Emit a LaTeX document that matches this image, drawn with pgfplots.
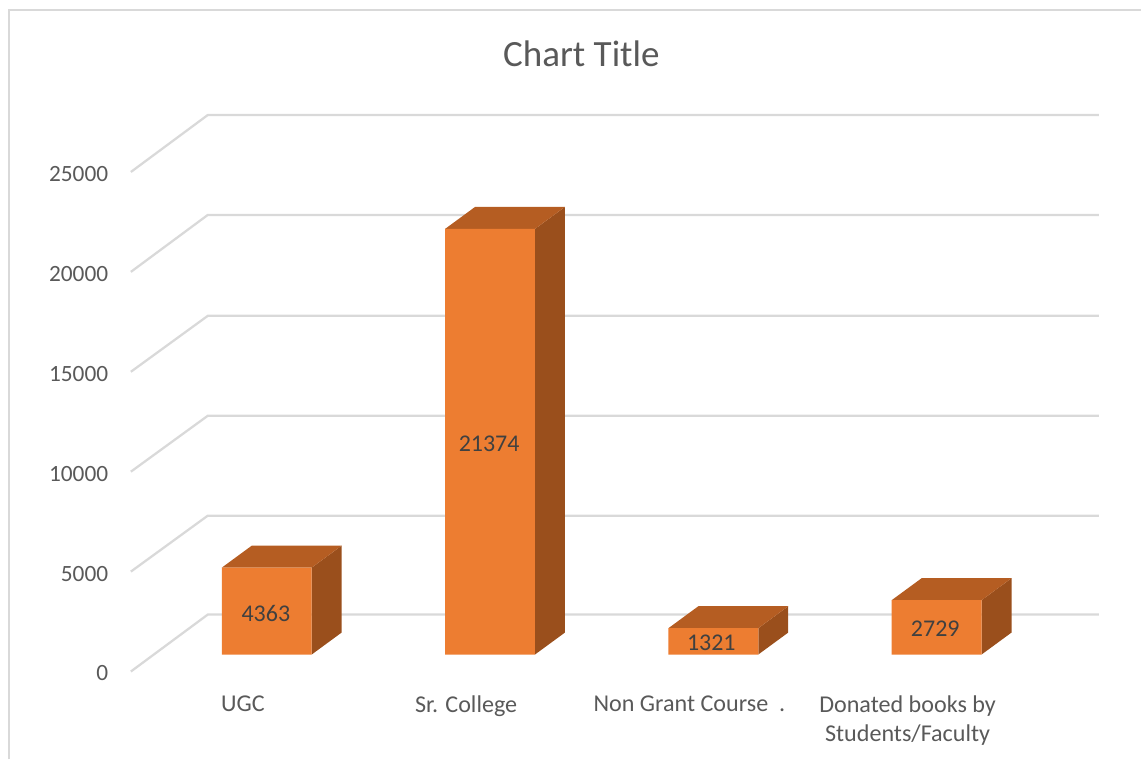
\documentclass[border=0pt]{standalone}
\usepackage{fontspec}
\setmainfont{Carlito}
\usepackage{pgfplots}
\pgfplotsset{compat=1.18}
\definecolor{barfront}{HTML}{ED7D31}
\definecolor{bartop}{HTML}{B55D22}
\definecolor{barside}{HTML}{9A4F1C}
\definecolor{gridc}{HTML}{D9D9D9}
\definecolor{txt}{HTML}{595959}
\definecolor{lbl}{HTML}{404040}
\begin{document}
\begin{tikzpicture}
\begin{axis}[
  scale only axis, width=772.5pt, height=517.5pt,
  xmin=-0.6935, xmax=3.915, ymin=-1756, ymax=32863,
  clip=false, axis line style={draw=none}, major tick length=0pt,
  scaled y ticks=false,
  xtick={-0.107,0.893,1.893,2.87},
  xticklabels={\vphantom{Dy}UGC,\vphantom{Dy}Sr. College,{\vphantom{Dy}Non Grant Course\ \ .},{Donated books by\\Students/Faculty}},
  xticklabel style={align=center,font=\fontsize{18.1}{21.8}\selectfont,text=txt,yshift=-1pt},
  ytick={-853,4164,9182,14199,19216,24233},
  yticklabels={0,5000,10000,15000,20000,25000},
  yticklabel style={font=\fontsize{17.5}{21}\selectfont,text=txt,yshift=-1.5pt,xshift=0.75pt},
]
% chart frame, left and top only
\draw[gridc,line width=1.6pt] (axis cs:-1.1544,-5268) -- (axis cs:-1.1544,32362) -- (axis cs:3.915,32362);
\path (axis cs:-1.1946,-5268) rectangle (axis cs:3.915,32863);

% floor and back wall lines
\addplot[gridc,line width=1.7pt] coordinates {(-0.6085,-853)(-0.264,2007)(3.727,2007)};
\addplot[gridc,line width=1.7pt] coordinates {(-0.6085,4164)(-0.264,6974)(3.727,6974)};
\addplot[gridc,line width=1.7pt] coordinates {(-0.6085,9182)(-0.264,11991)(3.727,11991)};
\addplot[gridc,line width=1.7pt] coordinates {(-0.6085,14199)(-0.264,17009)(3.727,17009)};
\addplot[gridc,line width=1.7pt] coordinates {(-0.6085,19216)(-0.264,22076)(3.727,22076)};
\addplot[gridc,line width=1.7pt] coordinates {(-0.6085,24233)(-0.264,27094)(3.727,27094)};

% right sides
\addplot[fill=barside,draw=none] coordinates {(0.2013,0)(0.3355,1104)(0.3355,5467)(0.2013,4363)} --cycle;
\addplot[fill=barside,draw=none] coordinates {(1.2013,0)(1.3355,1104)(1.3355,22478)(1.2013,21374)} --cycle;
\addplot[fill=barside,draw=none] coordinates {(2.2013,0)(2.3355,1104)(2.3355,2425)(2.2013,1321)} --cycle;
\addplot[fill=barside,draw=none] coordinates {(3.2013,0)(3.3355,1104)(3.3355,3833)(3.2013,2729)} --cycle;

% tops
\addplot[fill=bartop,draw=none] coordinates {(-0.2013,4363)(0.2013,4363)(0.3355,5467)(-0.0671,5467)} --cycle;
\addplot[fill=bartop,draw=none] coordinates {(0.7987,21374)(1.2013,21374)(1.3355,22478)(0.9329,22478)} --cycle;
\addplot[fill=bartop,draw=none] coordinates {(1.7987,1321)(2.2013,1321)(2.3355,2425)(1.9329,2425)} --cycle;
\addplot[fill=bartop,draw=none] coordinates {(2.7987,2729)(3.2013,2729)(3.3355,3833)(2.9329,3833)} --cycle;

% front faces
\addplot[ybar,bar width=67.5pt,fill=barfront,draw=none] coordinates {(0,4363)(1,21374)(2,1321)(3,2729)};

\node[font=\fontsize{18}{21}\selectfont,text=lbl,yshift=-1.2pt] at (axis cs:-0.004,2157) {4363};
\node[font=\fontsize{18}{21}\selectfont,text=lbl,yshift=-1.2pt] at (axis cs:0.996,10687) {21374};
\node[font=\fontsize{18}{21}\selectfont,text=lbl,yshift=-0.6pt] at (axis cs:1.991,652) {1321};
\node[font=\fontsize{18}{21}\selectfont,text=lbl,yshift=-0.6pt] at (axis cs:2.994,1355) {2729};
\node[font=\fontsize{27.8}{32}\selectfont,text=txt] at (axis cs:1.409,30153) {Chart Title};
\end{axis}
\end{tikzpicture}
\end{document}
